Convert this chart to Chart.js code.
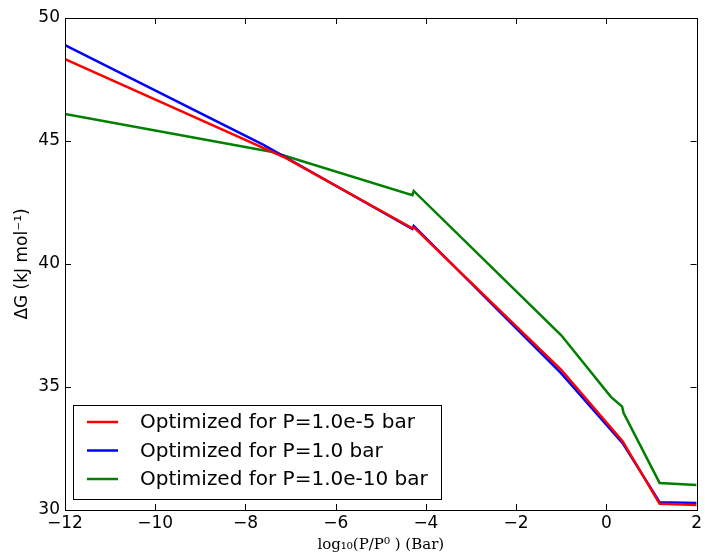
<!DOCTYPE html>
<html>
<head>
<meta charset="utf-8">
<script src="https://cdn.jsdelivr.net/npm/chart.js@4/dist/chart.umd.min.js"></script>
<style>
html,body{margin:0;padding:0;background:#fff;}
#wrap{width:705px;height:556px;position:relative;}
</style>
</head>
<body>
<div id="wrap"><canvas id="c" width="705" height="556"></canvas></div>
<script>
// ---- data ----
const seriesLabels = ["Optimized for P=1.0e-5 bar", "Optimized for P=1.0 bar", "Optimized for P=1.0e-10 bar"];
const redX   = [-12, -7.1, -4.3, -4.27, -1.0, 0.36, 1.18, 2.0];
const redY   = [48.33, 44.3, 41.45, 41.5, 35.7, 32.8, 30.25, 30.2];
const blueX  = [-12, -7.6, -4.3, -4.27, -1.0, 0.36, 1.18, 2.0];
const blueY  = [48.9, 44.84, 41.42, 41.55, 35.55, 32.72, 30.32, 30.28];
const greenX = [-12, -7.4, -4.3, -4.27, -1.0, 0.1, 0.35, 0.38, 1.18, 2.0];
const greenY = [46.1, 44.55, 42.8, 42.97, 37.1, 34.6, 34.2, 33.95, 31.1, 31.02];
const xTicks = [-12, -10, -8, -6, -4, -2, 0, 2];
const yTicks = [30, 35, 40, 45, 50];
const colors = ["#ff0000", "#0000ff", "#008000"];

function pts(xs, ys){ return xs.map((x,i)=>({x:x, y:ys[i]})); }
const allX = [redX, blueX, greenX];
const allY = [redY, blueY, greenY];

const FONT = "'DejaVu Sans', sans-serif";

const frame = {
  id: 'frame',
  afterDatasetsDraw(chart){
    const {ctx, chartArea:a, scales} = chart;
    ctx.save();
    ctx.strokeStyle = '#000';
    ctx.lineWidth = 1;
    ctx.beginPath();
    // inward ticks
    xTicks.forEach(v=>{
      const px = Math.round(scales.x.getPixelForValue(v))+0.5;
      ctx.moveTo(px, a.bottom); ctx.lineTo(px, a.bottom-6);
      ctx.moveTo(px, a.top); ctx.lineTo(px, a.top+6);
    });
    yTicks.forEach(v=>{
      const py = Math.round(scales.y.getPixelForValue(v))+0.5;
      ctx.moveTo(a.left, py); ctx.lineTo(a.left+6, py);
      ctx.moveTo(a.right, py); ctx.lineTo(a.right-6, py);
    });
    ctx.stroke();
    ctx.strokeRect(Math.round(a.left)+0.5, Math.round(a.top)+0.5, Math.round(a.right-a.left), Math.round(a.bottom-a.top));
    // legend box inside plot
    const bx = 73.5, by = 405.5, bw = 368, bh = 94;
    ctx.fillStyle = '#fff';
    ctx.fillRect(bx, by, bw, bh);
    ctx.strokeRect(bx, by, bw, bh);
    ctx.font = "20px " + FONT;
    ctx.textBaseline = 'middle';
    ctx.textAlign = 'left';
    chart.data.datasets.forEach((ds,i)=>{
      const cy = by + 16.5 + i*28.5;
      ctx.strokeStyle = ds.borderColor;
      ctx.lineWidth = 2.5;
      ctx.beginPath(); ctx.moveTo(87, cy); ctx.lineTo(118, cy); ctx.stroke();
      ctx.fillStyle = '#000';
      ctx.fillText(ds.label, 140, cy+1);
    });
    ctx.restore();
  }
};

new Chart(document.getElementById('c'), {
  type: 'scatter',
  data: {
    datasets: seriesLabels.map((lab,i)=>({
      label: lab,
      data: pts(allX[i], allY[i]),
      showLine: true,
      borderColor: colors[i],
      backgroundColor: colors[i],
      borderWidth: 2.5,
      pointRadius: 0,
      tension: 0,
      fill: false
    }))
  },
  options: {
    responsive: false,
    animation: false,
    devicePixelRatio: 1,
    layout: { padding: { top: 18, right: 8, left: 0, bottom: 0 } },
    plugins: { legend: { display: false }, tooltip: { enabled: false } },
    scales: {
      x: {
        type: 'linear', min: -12, max: 2,
        afterBuildTicks: s => { s.ticks = xTicks.map(v=>({value:v})); },
        afterFit: s => { s.height = 46; },
        grid: { display: false, drawTicks: false },
        border: { display: false },
        ticks: { color: '#000', font: { family: FONT, size: 17 }, padding: 3, maxRotation: 0,
                 callback: v => String(v).replace('-', '\u2212') },
        title: { display: true, text: 'log\u2081\u2080(P/P\u2070 ) (Bar)', color: '#000',
                 font: { family: "'DejaVu Serif', serif", size: 15 }, padding: { top: 0, bottom: 2 } }
      },
      y: {
        type: 'linear', min: 30, max: 50,
        afterBuildTicks: s => { s.ticks = yTicks.map(v=>({value:v})); },
        afterFit: s => { s.width = 65; },
        grid: { display: false, drawTicks: false },
        border: { display: false },
        ticks: { color: '#000', font: { family: FONT, size: 17 }, padding: 5 },
        title: { display: true, text: '\u0394G (kJ mol\u207B\u00B9)', color: '#000',
                 font: { family: FONT, size: 17 }, padding: { top: 12, bottom: 0 } }
      }
    }
  },
  plugins: [frame]
});
</script>
</body>
</html>
